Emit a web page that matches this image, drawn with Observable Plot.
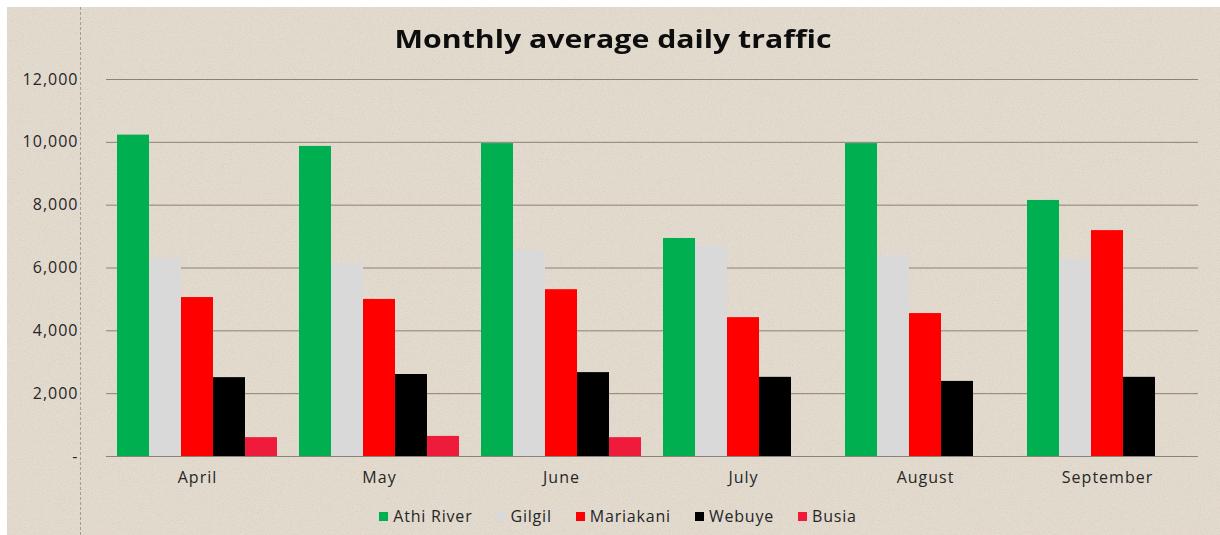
<!DOCTYPE html>
<html>
<head>
<meta charset="utf-8">
<script src="https://cdn.jsdelivr.net/npm/d3@7"></script>
<script src="https://cdn.jsdelivr.net/npm/@observablehq/plot@0.6"></script>
<style>
  html, body { margin: 0; padding: 0; }
  body { width: 1220px; height: 535px; overflow: hidden; background: #ffffff; font-family: "Open Sans", sans-serif; }
  #page { position: absolute; left: 7px; top: 7px; width: 1213px; height: 528px; background-color: #e4dbcf; }
  #noise { position: absolute; left: 7px; top: 7px; width: 1213px; height: 528px; }
  #vline { position: absolute; left: 80px; top: 7px; height: 528px; width: 0; border-left: 1.5px dashed #a39c91; }
  #title { position: absolute; left: 0; top: 21px; width: 1226px; text-align: center; font-size: 25px; font-weight: 700; color: #0d0d0d; transform: scaleX(1.21); transform-origin: 613px 0; }
  #chart { position: absolute; left: 0; top: 60px; }
  #chart svg text { letter-spacing: 1px; }
  #legend { position: absolute; left: 0; top: 505px; width: 1236px; display: flex; justify-content: center; gap: 24px; font-size: 16px; letter-spacing: 0.8px; color: #262626; }
  #legend .item { display: flex; align-items: center; gap: 5px; }
  #legend .sw { width: 9px; height: 9px; display: inline-block; }
</style>
</head>
<body>
<div id="page"></div>
<svg id="noise" width="1213" height="528">
  <filter id="n"><feTurbulence type="fractalNoise" baseFrequency="0.9" numOctaves="2" seed="3"/><feColorMatrix type="matrix" values="0 0 0 0 0.45  0 0 0 0 0.42  0 0 0 0 0.38  0 0 0 -1.6 0.9"/></filter>
  <rect width="1213" height="528" filter="url(#n)" opacity="0.35"/>
</svg>
<div id="vline"></div>
<div id="title">Monthly average daily traffic</div>
<div id="chart"></div>
<div id="legend"></div>
<script>
const months = ["April", "May", "June", "July", "August", "September"];
const seriesNames = ["Athi River", "Gilgil", "Mariakani", "Webuye", "Busia"];
const seriesColors = ["#00b050", "#d9d9d9", "#ff0000", "#000000", "#ee1c3a"];
const athiRiver = [10230, 9870, 9960, 6940, 9960, 8150];
const gilgil    = [6300, 6140, 6560, 6720, 6400, 6270];
const mariakani = [5060, 5000, 5310, 4420, 4550, 7190];
const webuye    = [2510, 2610, 2670, 2520, 2390, 2520];
const busia     = [600, 640, 600, null, null, null];
const yTicks = [0, 2000, 4000, 6000, 8000, 10000, 12000];

const seriesValues = [athiRiver, gilgil, mariakani, webuye, busia];
const data = [];
months.forEach((m, i) => {
  seriesNames.forEach((s, j) => {
    const v = seriesValues[j][i];
    if (v != null) data.push({month: m, series: s, value: v});
  });
});

const fmt = d3.format(",");
const chart = Plot.plot({
  width: 1220,
  height: 440,
  marginTop: 19,
  marginBottom: 44,
  marginLeft: 104,
  marginRight: 21,
  style: {fontFamily: "Open Sans, sans-serif", fontSize: "16px", color: "#262626", background: "transparent", overflow: "visible"},
  fx: {domain: months, padding: 0, axis: "bottom", tickSize: 0, tickPadding: 15, label: null},
  x: {domain: seriesNames, paddingInner: 0, paddingOuter: 0.34, axis: null},
  y: {domain: [0, 12000], ticks: yTicks, tickFormat: d => d === 0 ? "-" : fmt(d), tickSize: 0, tickPadding: 28, label: null},
  color: {domain: seriesNames, range: seriesColors},
  marks: [
    Plot.ruleY(yTicks, {stroke: "#8a8274", strokeWidth: 1}),
    Plot.barY(data, {fx: "month", x: "series", y: "value", fill: "series"})
  ]
});
document.getElementById("chart").appendChild(chart);

const legend = document.getElementById("legend");
seriesNames.forEach((s, j) => {
  const item = document.createElement("div");
  item.className = "item";
  const sw = document.createElement("span");
  sw.className = "sw";
  sw.style.background = seriesColors[j];
  const t = document.createElement("span");
  t.textContent = s;
  item.appendChild(sw);
  item.appendChild(t);
  legend.appendChild(item);
});
</script>
</body>
</html>
